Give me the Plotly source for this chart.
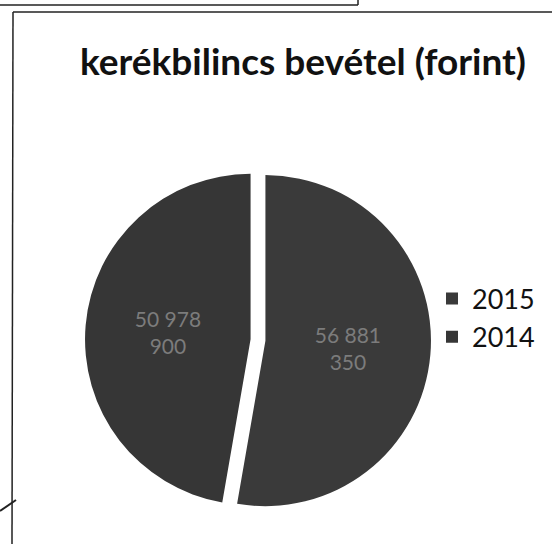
import plotly.graph_objects as go

title = "kerékbilincs bevétel (forint)"
years = ["2015", "2014"]
values = [56881350, 50978900]
value_labels = ["56 881<br>350", "50 978<br>900"]
slice_colors = ["#3a3a3a", "#363636"]

W, H = 552, 544
CX, CY, HALF = 258, 340, 173

fig = go.Figure()
fig.add_trace(go.Pie(
    labels=years,
    values=values,
    text=value_labels,
    textinfo="text",
    textposition="inside",
    insidetextorientation="horizontal",
    textfont=dict(family="Lato, Open Sans, sans-serif", size=21, color="#7c7c7c"),
    marker=dict(colors=slice_colors, line=dict(width=0)),
    sort=False,
    direction="clockwise",
    rotation=0,
    pull=[0.045, 0.045],
    domain=dict(x=[(CX - HALF) / W, (CX + HALF) / W], y=[(H - CY - HALF) / H, (H - CY + HALF) / H]),
    hoverinfo="label+value",
))

def px(x):
    return x / W

def py(y):
    return 1 - y / H

line_style = dict(color="#222222", width=1.5)
shapes = [
    dict(type="line", xref="paper", yref="paper", x0=px(0), y0=py(5), x1=px(358), y1=py(5), line=line_style),
    dict(type="line", xref="paper", yref="paper", x0=px(358), y0=py(0), x1=px(358), y1=py(5), line=line_style),
    dict(type="line", xref="paper", yref="paper", x0=px(13), y0=py(12), x1=px(552), y1=py(12), line=line_style),
    dict(type="line", xref="paper", yref="paper", x0=px(13), y0=py(12), x1=px(12), y1=py(544), line=line_style),
    dict(type="line", xref="paper", yref="paper", x0=px(0), y0=py(511), x1=px(16), y1=py(500), line=dict(color="#222222", width=2)),
]

fig.update_layout(
    width=W, height=H,
    margin=dict(l=0, r=0, t=0, b=0),
    paper_bgcolor="white",
    plot_bgcolor="white",
    title=dict(text="<b>" + title + "</b>", x=303 / W, xanchor="center", y=py(62), yanchor="middle",
               font=dict(family="Lato, Open Sans, sans-serif", size=37, color="#111111")),
    showlegend=True,
    legend=dict(x=px(432), y=py(318), xanchor="left", yanchor="middle",
                font=dict(family="Lato, Open Sans, sans-serif", size=27, color="#111111"),
                bgcolor="rgba(0,0,0,0)"),
    shapes=shapes,
)

fig.write_html("out.html", config={"displayModeBar": False},
               post_script="document.body.style.margin='0';")
